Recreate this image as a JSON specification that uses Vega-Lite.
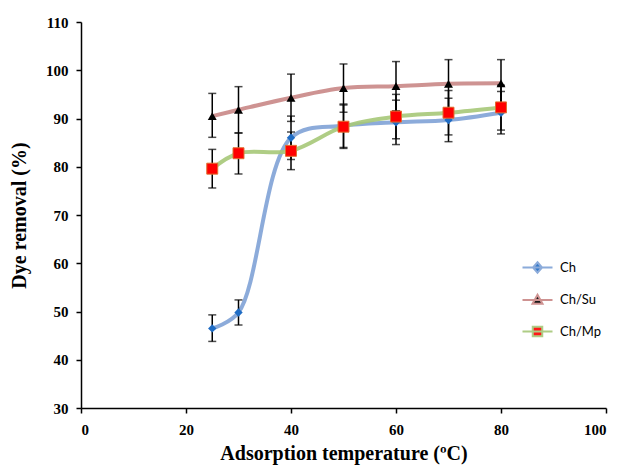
{
  "$schema": "https://vega.github.io/schema/vega-lite/v6.json",
  "width": 525,
  "height": 386,
  "autosize": {"type": "none"},
  "padding": {"left": 81, "top": 22, "right": 18, "bottom": 61},
  "background": "white",
  "config": {
    "view": {"stroke": null},
    "axis": {
      "domainColor": "black", "domainWidth": 1.5, "tickColor": "black", "tickWidth": 1.5, "tickSize": 5,
      "labelFont": "Liberation Serif", "labelFontWeight": "bold", "labelFontSize": 15, "labelColor": "black",
      "titleFont": "Liberation Serif", "titleFontWeight": "bold", "titleFontSize": 20, "titleColor": "black",
      "grid": false
    }
  },
  "data": {
    "values": [
      {"series": "Ch", "temp": 25, "val": 46.5, "lo": 43.8, "hi": 49.3},
      {"series": "Ch", "temp": 30, "val": 49.8, "lo": 47.2, "hi": 52.4},
      {"series": "Ch", "temp": 40, "val": 86.0, "lo": 81.5, "hi": 90.5},
      {"series": "Ch", "temp": 50, "val": 88.5, "lo": 84.0, "hi": 93.0},
      {"series": "Ch", "temp": 60, "val": 89.2, "lo": 84.6, "hi": 93.8},
      {"series": "Ch", "temp": 70, "val": 89.7, "lo": 85.2, "hi": 94.2},
      {"series": "Ch", "temp": 80, "val": 91.2, "lo": 86.8, "hi": 95.6},
      {"series": "Ch/Su", "temp": 25, "val": 90.5, "lo": 86.1, "hi": 95.2},
      {"series": "Ch/Su", "temp": 30, "val": 91.8, "lo": 87.0, "hi": 96.6},
      {"series": "Ch/Su", "temp": 40, "val": 94.3, "lo": 89.4, "hi": 99.2},
      {"series": "Ch/Su", "temp": 50, "val": 96.3, "lo": 91.3, "hi": 101.3},
      {"series": "Ch/Su", "temp": 60, "val": 96.7, "lo": 91.6, "hi": 101.8},
      {"series": "Ch/Su", "temp": 70, "val": 97.2, "lo": 92.2, "hi": 102.2},
      {"series": "Ch/Su", "temp": 80, "val": 97.3, "lo": 92.3, "hi": 102.2},
      {"series": "Ch/Mp", "temp": 25, "val": 79.6, "lo": 75.6, "hi": 83.6},
      {"series": "Ch/Mp", "temp": 30, "val": 82.8, "lo": 78.5, "hi": 87.0},
      {"series": "Ch/Mp", "temp": 40, "val": 83.3, "lo": 79.4, "hi": 87.2},
      {"series": "Ch/Mp", "temp": 50, "val": 88.3, "lo": 83.8, "hi": 92.8},
      {"series": "Ch/Mp", "temp": 60, "val": 90.4, "lo": 85.8, "hi": 95.0},
      {"series": "Ch/Mp", "temp": 70, "val": 91.2, "lo": 86.6, "hi": 95.8},
      {"series": "Ch/Mp", "temp": 80, "val": 92.3, "lo": 87.6, "hi": 96.9}
    ]
  },
  "layer": [
    {
      "mark": {"type": "line", "interpolate": "catmull-rom", "strokeWidth": 4, "opacity": 0.9},
      "encoding": {
        "x": {"field": "temp", "type": "quantitative", "scale": {"domain": [0, 100]}, "axis": {"values": [0, 20, 40, 60, 80, 100], "title": "Adsorption temperature (ºC)", "titlePadding": 6, "labelPadding": 9}},
        "y": {"field": "val", "type": "quantitative", "scale": {"domain": [30, 110]}, "axis": {"values": [30, 40, 50, 60, 70, 80, 90, 100, 110], "title": "Dye removal (%)", "titlePadding": 16, "labelPadding": 8}},
        "stroke": {"field": "series", "type": "nominal", "scale": {"domain": ["Ch", "Ch/Su", "Ch/Mp"], "range": ["#7fa2d6", "#c98786", "#a6c878"]},
          "legend": {"title": null, "orient": "none", "legendX": 450, "legendY": 239, "symbolSize": 100, "symbolStrokeWidth": 2, "labelFont": "Lato", "labelFontSize": 13, "labelColor": "black", "labelOffset": 16, "rowPadding": 13.5, "padding": 0}}
      }
    },
    {
      "mark": {"type": "rule", "color": "black", "strokeWidth": 1.5},
      "encoding": {
        "x": {"field": "temp", "type": "quantitative"},
        "y": {"field": "lo", "type": "quantitative"},
        "y2": {"field": "hi"}
      }
    },
    {
      "mark": {"type": "tick", "orient": "horizontal", "color": "black", "size": 8, "thickness": 1.5},
      "encoding": {
        "x": {"field": "temp", "type": "quantitative"},
        "y": {"field": "lo", "type": "quantitative"}
      }
    },
    {
      "mark": {"type": "tick", "orient": "horizontal", "color": "black", "size": 8, "thickness": 1.5},
      "encoding": {
        "x": {"field": "temp", "type": "quantitative"},
        "y": {"field": "hi", "type": "quantitative"}
      }
    },
    {
      "transform": [{"filter": "datum.series === 'Ch'"}],
      "mark": {"type": "point", "filled": true, "opacity": 1, "shape": "diamond", "size": 70, "fill": "#1f6cc4"},
      "encoding": {
        "x": {"field": "temp", "type": "quantitative"},
        "y": {"field": "val", "type": "quantitative"}
      }
    },
    {
      "transform": [{"filter": "datum.series === 'Ch/Su'"}],
      "mark": {"type": "point", "filled": true, "opacity": 1, "shape": "triangle-up", "size": 80, "fill": "#000000"},
      "encoding": {
        "x": {"field": "temp", "type": "quantitative"},
        "y": {"field": "val", "type": "quantitative"}
      }
    },
    {
      "transform": [{"filter": "datum.series === 'Ch/Mp'"}],
      "mark": {"type": "point", "filled": true, "opacity": 1, "shape": "square", "size": 120, "fill": "#ff0000", "stroke": "#e07030", "strokeWidth": 1},
      "encoding": {
        "x": {"field": "temp", "type": "quantitative"},
        "y": {"field": "val", "type": "quantitative"}
      }
    },
    {
      "transform": [{"filter": "false"}],
      "mark": {"type": "point", "filled": true, "opacity": 1},
      "encoding": {
        "x": {"field": "temp", "type": "quantitative"},
        "y": {"field": "val", "type": "quantitative"},
        "shape": {"field": "series", "type": "nominal",
          "scale": {"domain": ["Ch", "Ch/Su", "Ch/Mp"], "range": ["M-3,0L3,0M0,-1.05L0.9,0L0,1.05L-0.9,0Z", "M-3,0L3,0M0,-1.05L1,0.75L-1,0.75Z", "M-3,0L3,0M-0.95,-0.95L0.95,-0.95L0.95,0.95L-0.95,0.95Z"]}, "legend": null},
        "fill": {"field": "series", "type": "nominal", "scale": {"domain": ["Ch", "Ch/Su", "Ch/Mp"], "range": ["#1f6cc4", "#000000", "#ff0000"]}, "legend": null}
      }
    }
  ]
}
